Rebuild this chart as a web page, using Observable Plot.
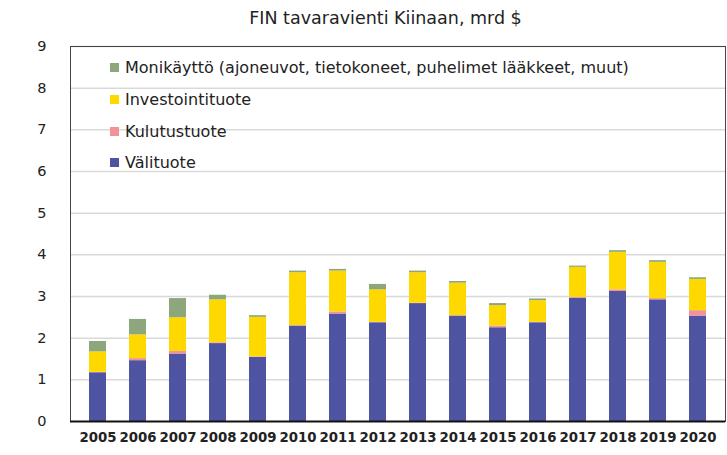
<!DOCTYPE html>
<html><head><meta charset="utf-8">
<script src="https://cdn.jsdelivr.net/npm/d3@7"></script>
<script src="https://cdn.jsdelivr.net/npm/@observablehq/plot@0.6"></script>
<style>
body{margin:0;background:#fff;font-family:"DejaVu Sans",sans-serif;}
#wrap{position:relative;width:727px;height:455px;overflow:hidden;}
#title{height:34px;line-height:36px;text-align:center;font-size:17.5px;color:#222;padding-left:44px;}
#legend{position:absolute;left:110px;top:52px;font-size:16px;color:#222;}
.row{height:31.7px;display:flex;align-items:center;}
.sw{width:9px;height:9px;margin-right:6px;}
</style></head>
<body><div id="wrap"><div id="title">FIN tavaravienti Kiinaan, mrd $</div><div id="legend"></div></div>
<script>
const years = ["2005","2006","2007","2008","2009","2010","2011","2012","2013","2014","2015","2016","2017","2018","2019","2020"];
const series = ["Välituote","Kulutustuote","Investointituote","Monikäyttö (ajoneuvot, tietokoneet, puhelimet lääkkeet, muut)"];
const colors = ["#4E54A1","#F4929B","#FFD800","#8DA67C"];
const valituote      = [1.17,1.46,1.62,1.87,1.54,2.29,2.58,2.37,2.83,2.53,2.25,2.37,2.96,3.12,2.92,2.53];
const kulutustuote   = [0.01,0.05,0.06,0.02,0.01,0.01,0.05,0.01,0.01,0.01,0.04,0.01,0.02,0.04,0.03,0.13];
const investointi    = [0.49,0.57,0.81,1.03,0.95,1.27,0.98,0.78,0.73,0.78,0.49,0.52,0.72,0.90,0.87,0.75];
const monikaytto     = [0.25,0.37,0.46,0.11,0.04,0.04,0.04,0.13,0.04,0.04,0.05,0.04,0.03,0.04,0.04,0.04];
const yTicks = [0,1,2,3,4,5,6,7,8,9];

const cols = [valituote, kulutustuote, investointi, monikaytto];
const data = [];
series.forEach((s, i) => years.forEach((y, j) => data.push({year: y, series: s, value: cols[i][j]})));

const chart = Plot.plot({
  width: 727, height: 421,
  marginLeft: 70, marginRight: 2, marginTop: 12, marginBottom: 34,
  style: {fontFamily: "'DejaVu Sans', sans-serif", color: "#222", background: "#fff"},
  x: {domain: years, paddingInner: 0.57, paddingOuter: 0.285, label: null, tickSize: 0, tickPadding: 10},
  y: {domain: [0, 9], ticks: yTicks, label: null, tickSize: 0, tickPadding: 24},
  color: {domain: series, range: colors},
  marks: [
    Plot.gridY(yTicks.filter(d => d > 0), {stroke: "#D9D9D9", strokeOpacity: 1, strokeWidth: 1.5}),
    Plot.barY(data, {x: "year", y: "value", fill: "series", order: series}),
    Plot.frame({stroke: "#444", strokeWidth: 1}),
    Plot.ruleY([0], {stroke: "#111", strokeWidth: 2}),
    Plot.axisY({ticks: yTicks, tickSize: 0, tickPadding: 24, fontSize: 14.5, label: null}),
    Plot.axisX({tickSize: 0, tickPadding: 11, fontSize: 13.3, fontWeight: "bold", label: null})
  ]
});
document.getElementById("wrap").appendChild(chart);

const lg = document.getElementById("legend");
[3,2,1,0].forEach(i => {
  const r = document.createElement("div"); r.className = "row";
  const s = document.createElement("div"); s.className = "sw"; s.style.background = colors[i];
  const t = document.createElement("span"); t.textContent = series[i];
  r.appendChild(s); r.appendChild(t); lg.appendChild(r);
});
</script></body></html>
